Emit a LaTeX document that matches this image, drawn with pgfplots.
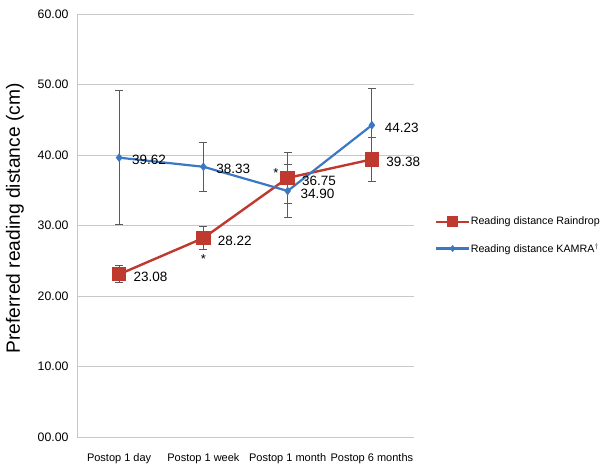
\documentclass[border=0pt]{standalone}
\usepackage{pgfplots}
\pgfplotsset{compat=1.18}
\usepackage{pgfplotstable}
\usepackage{fontspec}
\setmainfont{Liberation Sans}

\definecolor{raindrop}{HTML}{C0392F}
\definecolor{kamra}{HTML}{3A78C4}
\definecolor{gridgray}{HTML}{C8C8C8}
\definecolor{errgray}{HTML}{5A5A5A}

% x: 0 = 1 day, 1 = 1 week, 2 = 1 month, 3 = 6 months
\pgfplotstableread{
x y e
0 23.08 1.2
1 28.22 1.6
2 36.75 3.6
3 39.38 3.1
}\raindroptable
\pgfplotstableread{
x y e
0 39.62 9.5
1 38.33 3.45
2 34.90 3.7
3 44.23 5.2
}\kamratable

\begin{document}
\begin{tikzpicture}
\useasboundingbox (0pt,0pt) rectangle (600pt,468pt);
\begin{axis}[
  at={(77pt,31pt)}, anchor=south west,
  scale only axis, width=337pt, height=423pt,
  xmin=-0.5, xmax=3.5, ymin=0, ymax=60,
  xtick={0,1,2,3},
  xticklabels={Postop 1 day,Postop 1 week,Postop 1 month,Postop 6 months},
  ytick={0,10,20,30,40,50,60},
  yticklabels={00.00,10.00,20.00,30.00,40.00,50.00,60.00},
  /pgf/number format/assume math mode=true,
  axis x line*=bottom,
  axis y line*=left,
  axis line style={gridgray, line width=0.8pt},
  x axis line style={-},
  y axis line style={-},
  major tick length=0pt,
  ymajorgrids, grid style={gridgray, line width=0.8pt},
  yticklabel style={font=\fontsize{12.3}{14}\selectfont, color=black, xshift=-5pt},
  xticklabel style={font=\fontsize{11}{13}\selectfont, color=black, yshift=-13pt},
  ylabel={Preferred reading distance (cm)},
  ylabel style={font=\fontsize{19.2}{22}\selectfont, yshift=7pt, xshift=7pt},
  clip=false,
  legend style={at={(1.062,0.521)}, anchor=north west, draw=none, fill=none,
    inner sep=0pt, outer sep=0pt,
    font=\fontsize{10.7}{12}\selectfont, row sep=16pt,
    nodes={inner sep=0.5pt},
    legend cell align=left},
  legend image code/.code={
    \draw[#1, mark=none] (0pt,0pt) -- (33pt,0pt);
    \draw[#1, only marks, mark options={scale=0.7}] plot coordinates {(16.5pt,0pt)};
  },
  every node near coord/.append style={font=\fontsize{13.5}{15}\selectfont, color=black, anchor=west},
  nodes near coords={\pgfmathprintnumber[fixed,fixed zerofill,precision=2]{\pgfplotspointmeta}},
  point meta=y,
]
\addplot[color=raindrop, line width=2.4pt, mark=square*, mark size=6pt,
  mark options={solid},
  every node near coord/.append style={xshift=10pt, yshift=-2.5pt},
  error bars/.cd, y dir=both, y explicit,
  error bar style={errgray, line width=0.8pt},
  error mark options={rotate=90, mark size=4pt, errgray, line width=0.8pt},
  ] table[x=x, y=y, y error=e] {\raindroptable};
\addlegendentry{Reading distance Raindrop}
\addplot[color=kamra, line width=2.2pt, mark=diamond*, mark size=2.6pt,
  every node near coord/.append style={xshift=8.5pt, yshift=-2.5pt},
  error bars/.cd, y dir=both, y explicit,
  error bar style={errgray, line width=0.8pt},
  error mark options={rotate=90, mark size=4pt, errgray, line width=0.8pt},
  ] table[x=x, y=y, y error=e] {\kamratable};
\addlegendentry{Reading distance KAMRA$^{\dagger}$}
\node[font=\fontsize{13}{14}\selectfont] at (axis cs:1,25.2) {*};
\node[font=\fontsize{13}{14}\selectfont] at (axis cs:1.86,37.4) {*};
\end{axis}
\end{tikzpicture}
\end{document}
